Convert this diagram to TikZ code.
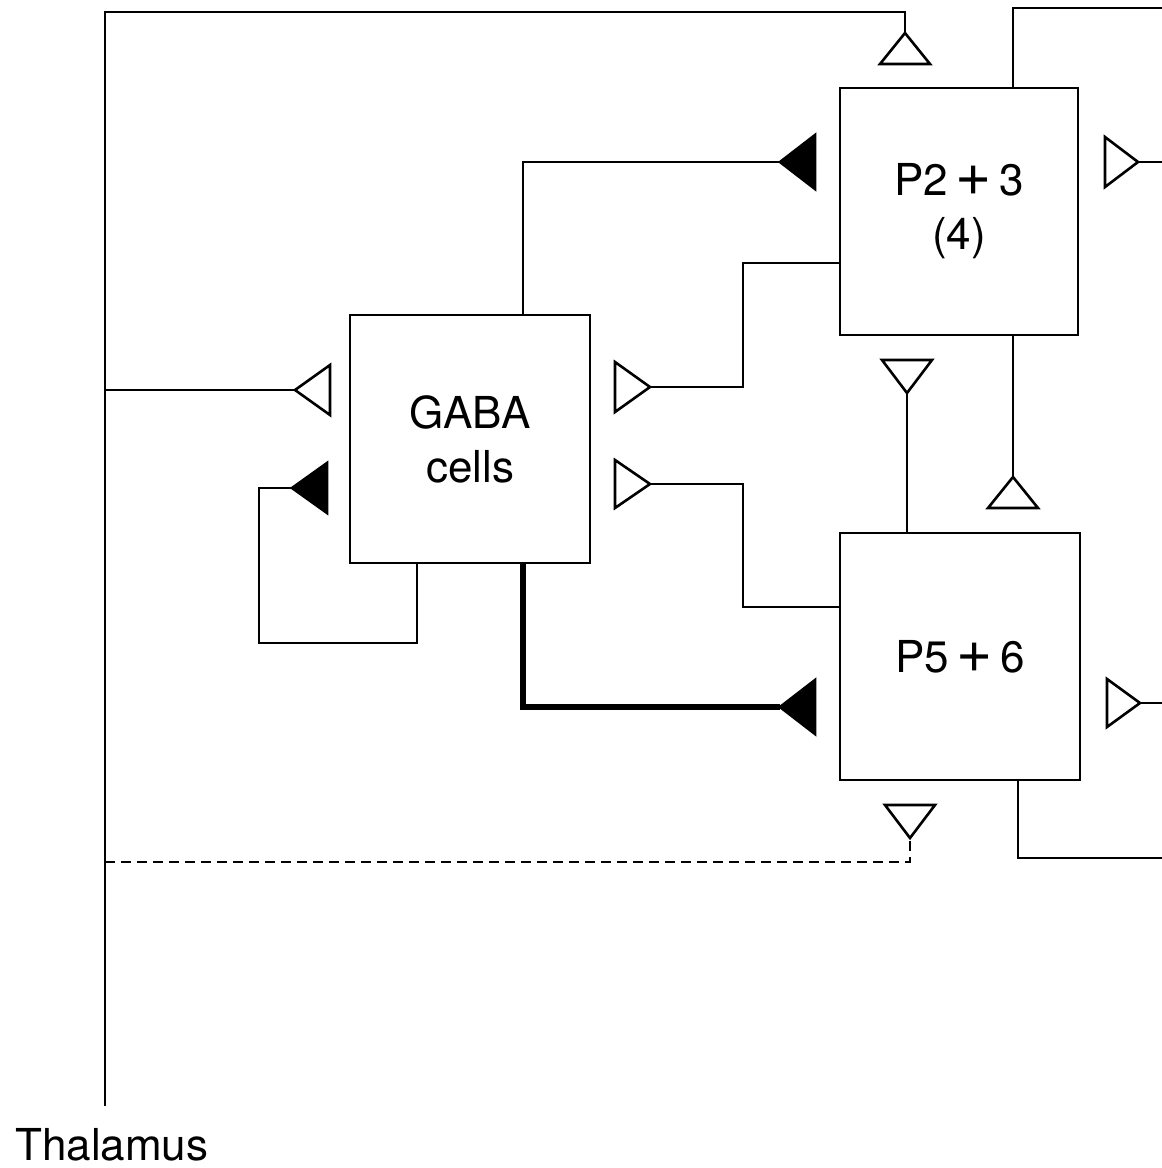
\documentclass[tikz,border=0pt]{standalone}
\usepackage{fontspec}
\setmainfont{TeX Gyre Heros}
\newcommand{\bigplus}{\,{\fontsize{62}{54}\selectfont +}\,}
\begin{document}
\begin{tikzpicture}[x=1pt,y=-1pt,
  wire/.style={line width=2.6pt,line join=miter},
  thick wire/.style={line width=6pt,line join=miter},
  box/.style={draw,line width=2.6pt,rectangle,align=center,inner sep=0pt,
     font=\fontsize{44}{54}\selectfont},
  opentri/.style={draw,line width=2.6pt,fill=white,line join=miter},
  filltri/.style={draw,line width=2.6pt,fill=black,line join=miter},
  lbl/.style={font=\fontsize{44}{54}\selectfont,inner sep=0pt}]
\useasboundingbox (0,0) rectangle (1162,1168);

% boxes
\node[box,minimum width=240pt,minimum height=248pt] (gaba) at (470,439) {GABA\\cells};
\node[box,minimum width=238pt,minimum height=247pt] (p23) at (959,211.5) {P2\bigplus3\\(4)};
\node[box,minimum width=240pt,minimum height=247pt] (p56) at (960,656.5) {P5\bigplus6};

% label
\node[lbl,anchor=base west] (thal) at (15,1160) {Thalamus};

% helper coordinates
\coordinate (thalbot) at (105,1100);
\coordinate (thaltop) at (105,12);
\coordinate (x523) at (523,0);
\coordinate (x417) at (417,0);
\coordinate (x1013) at (1013,0);
\coordinate (x1018) at (1018,0);
\coordinate (x907) at (907,0);
\coordinate (y263) at (0,263);
\coordinate (y607) at (0,607);

% triangle apexes
\coordinate (t1) at (905,33);
\coordinate (t2) at (780,162);
\coordinate (t3) at (1138,162);
\coordinate (t4) at (295,390);
\coordinate (t5) at (292,488);
\coordinate (t6) at (650,387);
\coordinate (t7) at (650,484);
\coordinate (t8) at (907,393);
\coordinate (t9) at (1013,477);
\coordinate (t10) at (780,707);
\coordinate (t11) at (1140,703);
\coordinate (t12) at (910,838);

% free ends at the right edge
\coordinate (e1) at (1162,8);
\coordinate (e2) at (1162,162);
\coordinate (e3) at (1162,703);
\coordinate (e4) at (1162,858);

% connectors
\draw[wire] (thal.north -| thalbot) ++(0,-22) -- (thaltop) -| (t1);
\draw[wire] (105,390) -- (t4);
\draw[wire,dash pattern=on 10pt off 6pt] (105,862) -| (t12);
\draw[wire] (gaba.north -| x523) |- (t2);
\draw[wire] (p23.west |- y263) -- (743,263) |- (t6);
\draw[wire] (p56.west |- y607) -- (743,607) |- (t7);
\draw[wire] (gaba.south -| x417) -- (417,643) -| (259,488) -- (t5);
\draw[thick wire] (gaba.south -| x523) |- (t10);
\draw[wire] (p56.north -| x907) -- (t8);
\draw[wire] (p23.south -| x1013) -- (t9);
\draw[wire] (p23.north -| x1013) |- (e1);
\draw[wire] (p56.south -| x1018) |- (e4);
\draw[wire] (t3) -- (e2);
\draw[wire] (t11) -- (e3);

% terminals (apex attached to line, base facing target)
\draw[opentri] (t1) -- ++(-25,31) -- ++(50,0) -- cycle;
\draw[filltri] (t2) -- ++(35,-27) -- ++(0,54) -- cycle;
\draw[opentri] (t3) -- ++(-33,-25) -- ++(0,50) -- cycle;
\draw[opentri] (t4) -- ++(35,-25) -- ++(0,50) -- cycle;
\draw[filltri] (t5) -- ++(35,-25) -- ++(0,50) -- cycle;
\draw[opentri] (t6) -- ++(-35,-25) -- ++(0,50) -- cycle;
\draw[opentri] (t7) -- ++(-35,-24) -- ++(0,48) -- cycle;
\draw[opentri] (t8) -- ++(-25,-33) -- ++(50,0) -- cycle;
\draw[opentri] (t9) -- ++(-25,31) -- ++(50,0) -- cycle;
\draw[filltri] (t10) -- ++(35,-27) -- ++(0,54) -- cycle;
\draw[opentri] (t11) -- ++(-33,-24) -- ++(0,48) -- cycle;
\draw[opentri] (t12) -- ++(-25,-33) -- ++(50,0) -- cycle;
\end{tikzpicture}
\end{document}
